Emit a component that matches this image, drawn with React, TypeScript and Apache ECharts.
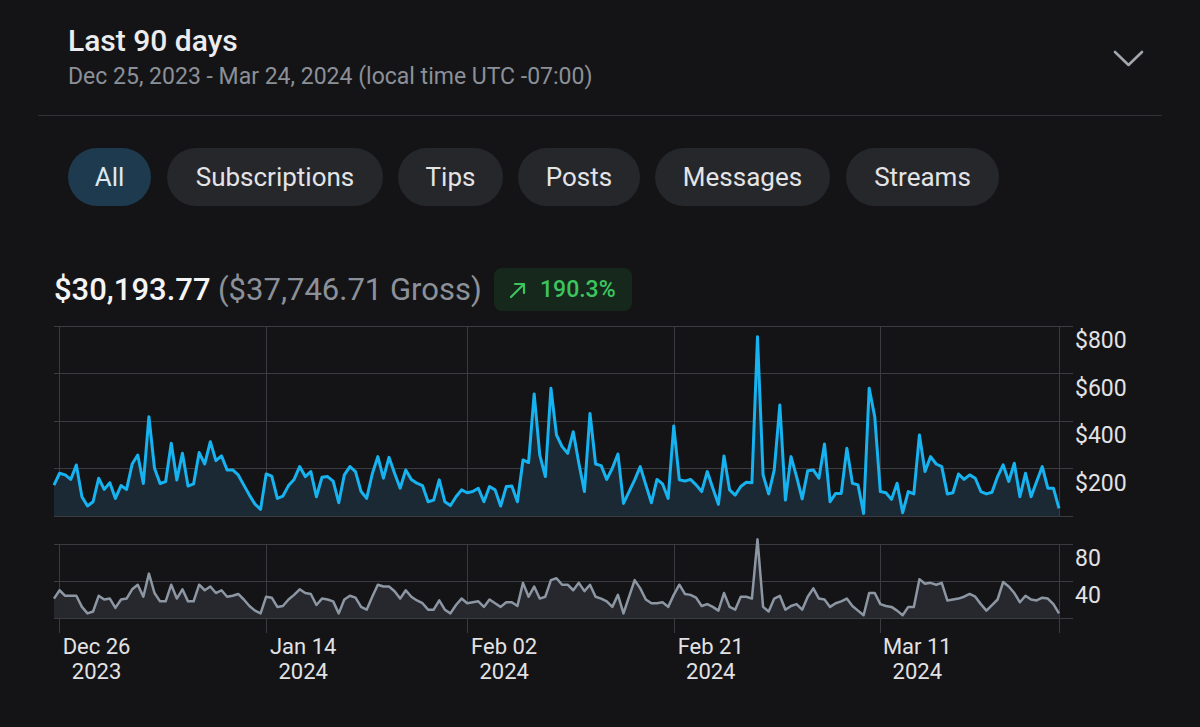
import React, { useEffect, useRef } from "react";
import * as echarts from "echarts";

// ---- data (two points per day, Dec 25 2023 → Mar 24 2024) ----
const netEarnings = [
  130, 180, 173, 154, 215, 81, 42, 60, 159, 112, 140, 74, 128, 112, 219, 257, 137, 418, 201, 137,
  145, 306, 152, 264, 126, 135, 267, 219, 313, 233, 253, 194, 194, 173, 130, 88, 50, 28,
  177, 168, 74, 84, 128, 154, 208, 166, 187, 81, 163, 166, 147, 56, 173, 208, 187, 103, 74, 177,
  250, 159, 247, 180, 117, 194, 154, 138, 128, 60, 67, 152, 60, 44,
  81, 110, 98, 103, 117, 60, 124, 110, 42, 124, 126, 60, 236, 225, 514, 257, 166, 538, 341, 292,
  264, 355, 222, 103, 432, 219, 212, 154, 201, 261, 53, 103, 152, 208, 131, 56,
  154, 135, 74, 379, 152, 147, 154, 131, 103, 187, 117, 49, 253, 110, 88, 124, 142, 140, 755, 173,
  93, 194, 467, 67, 250, 166, 72, 191, 194, 159, 303, 60, 95, 95, 285, 138,
  131, 11, 538, 418, 103, 98, 70, 138, 14, 103, 93, 341, 187, 250, 219, 208, 93, 98, 177, 154,
  173, 159, 103, 93, 100, 166, 215, 145, 222, 81, 180, 81, 145, 208, 117, 117, 32,
];
const transactionCount = [
  21, 30, 24, 24, 24, 12, 5, 7, 24, 20, 21, 11, 20, 21, 31, 36, 23, 48, 27, 18,
  18, 36, 21, 31, 18, 18, 36, 30, 34, 27, 30, 23, 24, 26, 20, 13, 8, 5,
  23, 22, 12, 13, 20, 25, 31, 27, 26, 14, 21, 20, 18, 5, 20, 24, 22, 12, 9, 23,
  36, 34, 34, 29, 21, 30, 23, 19, 16, 9, 9, 19, 9, 5,
  14, 21, 16, 17, 18, 12, 20, 16, 12, 17, 17, 13, 38, 23, 34, 21, 23, 41, 43, 36,
  36, 30, 38, 29, 36, 23, 21, 18, 12, 25, 5, 23, 41, 32, 20, 16,
  16, 17, 12, 25, 36, 26, 25, 22, 13, 15, 12, 8, 27, 12, 9, 23, 23, 21, 85, 12,
  7, 21, 24, 9, 13, 15, 9, 23, 32, 21, 20, 12, 16, 18, 21, 13,
  8, 3, 27, 27, 15, 13, 12, 8, 3, 12, 12, 42, 37, 38, 36, 38, 19, 20, 21, 23,
  26, 23, 15, 8, 14, 20, 39, 34, 27, 17, 24, 20, 19, 22, 21, 15, 5,
];
const tickLabels = ["Dec 26\n2023", "Jan 14\n2024", "Feb 02\n2024", "Feb 21\n2024", "Mar 11\n2024"];
const tickIndex = [1, 38, 74, 111, 148];
const earningsTicks = { min: 0, max: 800, step: 200 };
const countTicks = { min: 0, max: 80, step: 40 };
const filterTabs = ["All", "Subscriptions", "Tips", "Posts", "Messages", "Streams"];
const headerTitle = "Last 90 days";
const headerRange = "Dec 25, 2023 - Mar 24, 2024 (local time UTC -07:00)";
const netTotal = "$30,193.77";
const grossTotal = "($37,746.71 Gross)";
const growth = "190.3%";

const BG = "#141416";
const GRID = "#3b3c40";
const FONT = "Roboto, 'Noto Sans', sans-serif";

const pillLayout = [
  [68, 83], [167, 216], [398, 105], [518, 122], [655, 175], [846, 153],
];

export default function App() {
  const ref = useRef<HTMLDivElement>(null);

  useEffect(() => {
    if (!ref.current) return;
    const chart = echarts.init(ref.current, null, { renderer: "svg" });
    const lastIndex = netEarnings.length - 1;
    const xMax = (lastIndex * 1019) / 1005;
    const gridIdx = [...tickIndex, lastIndex];
    const labelStyle = { color: "#e2e2e4", fontFamily: FONT };

    chart.setOption({
      animation: false,
      backgroundColor: "transparent",
      textStyle: { fontFamily: FONT },
      grid: [
        { left: 54, top: 326, width: 1019, height: 190, containLabel: false, outerBoundsMode: "none" },
        { left: 54, top: 544, width: 1019, height: 74, containLabel: false, outerBoundsMode: "none" },
      ],
      xAxis: [
        {
          type: "value", gridIndex: 0, min: 0, max: xMax,
          axisLine: { show: false },
          axisTick: { show: false, customValues: gridIdx },
          axisLabel: { show: false },
          splitLine: { show: true, lineStyle: { color: GRID, width: 1 } },
        },
        {
          type: "value", gridIndex: 1, min: 0, max: xMax,
          axisLine: { show: false },
          axisTick: { show: true, customValues: gridIdx, length: 15, lineStyle: { color: GRID, width: 1 } },
          axisLabel: {
            show: true, customValues: tickIndex, hideOverlap: false,
            formatter: (v: number) => { const k = tickIndex.indexOf(Math.round(v)); return k >= 0 ? tickLabels[k] : ""; },
            ...labelStyle, fontSize: 22, lineHeight: 25, margin: 16, align: "center", padding: [0, 0, 0, 74],
          },
          splitLine: { show: true, lineStyle: { color: GRID, width: 1 } },
        },
      ],
      yAxis: [
        {
          type: "value", gridIndex: 0, position: "right",
          min: earningsTicks.min, max: earningsTicks.max, interval: earningsTicks.step,
          axisLine: { show: false }, axisTick: { show: false },
          splitLine: { show: true, lineStyle: { color: GRID, width: 1 } },
          axisLabel: {
            formatter: (v: number) => (v === 0 ? "" : "$" + v),
            ...labelStyle, fontSize: 23, margin: 2, verticalAlign: "top", padding: [3, 0, 0, 0],
          },
        },
        {
          type: "value", gridIndex: 1, position: "right",
          min: countTicks.min, max: countTicks.max, interval: countTicks.step,
          axisLine: { show: false }, axisTick: { show: false },
          splitLine: { show: true, lineStyle: { color: GRID, width: 1 } },
          axisLabel: {
            formatter: (v: number) => (v === 0 ? "" : String(v)),
            ...labelStyle, fontSize: 23, margin: 2, verticalAlign: "top", padding: [3, 0, 0, 0],
          },
        },
      ],
      series: [
        {
          type: "line", xAxisIndex: 0, yAxisIndex: 0,
          data: netEarnings.map((v, i) => [i, v]),
          symbol: "none", clip: false,
          lineStyle: { color: "#17b2f0", width: 3, join: "round" },
          areaStyle: { color: "#1b2935", opacity: 1 },
        },
        {
          type: "line", xAxisIndex: 1, yAxisIndex: 1,
          data: transactionCount.map((v, i) => [i, v]),
          symbol: "none", clip: false,
          lineStyle: { color: "#8d97a4", width: 2.5, join: "round" },
          areaStyle: { color: "#27282d", opacity: 1 },
        },
      ],
    });
    return () => chart.dispose();
  }, []);

  const abs = (s: React.CSSProperties): React.CSSProperties => ({ position: "absolute", whiteSpace: "nowrap", ...s });

  return (
    <div style={{ position: "fixed", left: 0, top: 0, width: 1200, height: 727, background: BG, overflow: "hidden", fontFamily: FONT }}>
      <div ref={ref} style={{ position: "absolute", left: 0, top: 0, width: 1200, height: 727 }} />
      <div style={abs({ left: 68, top: 23, fontSize: 30, lineHeight: "36px", fontWeight: 500, color: "#ececee" })}>{headerTitle}</div>
      <div style={abs({ left: 68, top: 63, fontSize: 23, lineHeight: "28px", color: "#8b9098" })}>{headerRange}</div>
      <svg style={abs({ left: 1110, top: 45, width: 36, height: 28 })} viewBox="0 0 36 28">
        <polyline points="5,7 18.5,20 32,7" fill="none" stroke="#a2a6ad" strokeWidth="2.6" strokeLinecap="round" strokeLinejoin="round" />
      </svg>
      <div style={abs({ left: 38, top: 115, width: 1124, height: 1, background: "#303135" })} />
      {filterTabs.map((t, i) => (
        <div key={t} style={abs({
          left: pillLayout[i][0], top: 148, width: pillLayout[i][1], height: 58, borderRadius: 29,
          background: i === 0 ? "#1d3a4f" : "#26272b", color: i === 0 ? "#dbe8f2" : "#e4e4e6",
          fontSize: 26, lineHeight: "58px", textAlign: "center",
        })}>{t}</div>
      ))}
      <div style={abs({ left: 54, top: 271, fontSize: 31, lineHeight: "37px", fontWeight: 500, color: "#f4f4f5" })}>{netTotal}</div>
      <div style={abs({ left: 218, top: 271, fontSize: 31, lineHeight: "37px", color: "#8c9199" })}>{grossTotal}</div>
      <div style={abs({ left: 494, top: 268, width: 138, height: 43, borderRadius: 8, background: "#16281c" })}>
        <svg style={abs({ left: 14, top: 12, width: 20, height: 20 })} viewBox="0 0 20 20">
          <path d="M3 17 L16 4 M7 4 L16 4 L16 13" fill="none" stroke="#3cc45f" strokeWidth="2.2" strokeLinecap="round" strokeLinejoin="round" />
        </svg>
        <div style={abs({ left: 46, top: 7, fontSize: 23, lineHeight: "29px", fontWeight: 500, color: "#3cc45f" })}>{growth}</div>
      </div>
    </div>
  );
}
